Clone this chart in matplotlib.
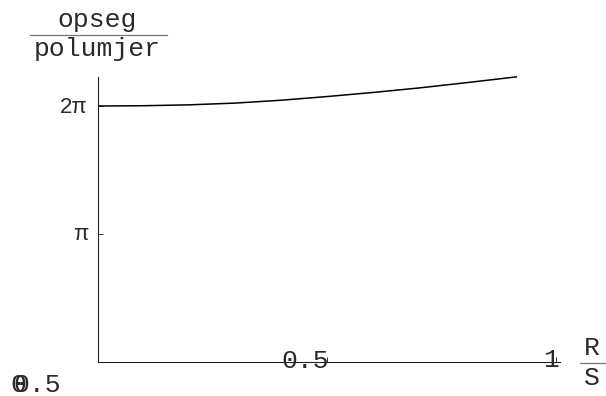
import numpy as np
import matplotlib
matplotlib.use("Agg")
import matplotlib.pyplot as plt

# ---- data ----
ratio_x = [0.0, 0.1, 0.2, 0.3, 0.4, 0.5, 0.6, 0.7, 0.8, 0.915]
ratio_y = [6.283, 6.290, 6.312, 6.355, 6.425, 6.515, 6.615, 6.725, 6.850, 7.000]
x_ticks = [0.5, 1.0]
x_tick_labels = ["0.5", "1"]
y_ticks = [np.pi, 2 * np.pi]
y_tick_labels = ["π", "2π"]
y_title = ("opseg", "polumjer")
x_title = ("R", "S")

W, H = 606, 396
fig = plt.figure(figsize=(W / 100, H / 100), dpi=100)

def fx(px):
    return px / W

def fy(py):
    return 1 - py / H

# axes: x=0 at px 98, x=1 at px 556 ; y=0 at py 362, 2pi at py 106
x0, x1 = 98, 560
y0, y1 = 362, 77
xmax = (x1 - x0) / 458.0
ymax = 2 * np.pi + (106 - y1) * np.pi / 128.0
ax = fig.add_axes([fx(x0), fy(y0), (x1 - x0) / W, (y0 - y1) / H])
ax.set_xlim(0, xmax)
ax.set_ylim(0, ymax)
for s in ["top", "right"]:
    ax.spines[s].set_visible(False)
for s in ["left", "bottom"]:
    ax.spines[s].set_linewidth(0.8)
    ax.spines[s].set_color("#222222")
ax.patch.set_alpha(0)

ax.plot(ratio_x, ratio_y, color="black", lw=1.1, solid_capstyle="butt", clip_on=False)

ax.set_xticks(x_ticks)
ax.set_yticks(y_ticks)
ax.tick_params(direction="in", length=3.5, width=0.7, color="#333333",
               labelbottom=False, labelleft=False)

mono = "Liberation Mono"
fs = 19
tc = "#2a2a2a"

# x tick labels (as placed in the reference)
ax.text(fx(305), fy(368), x_tick_labels[0], transform=fig.transFigure,
        ha="center", va="baseline", fontsize=fs, family=mono, color=tc)
ax.text(fx(551), fy(367), x_tick_labels[1], transform=fig.transFigure,
        ha="center", va="baseline", fontsize=fs, family=mono, color=tc)

# y tick labels
ax.text(fx(88), fy(240), y_tick_labels[0], transform=fig.transFigure,
        ha="right", va="baseline", fontsize=16, family="Liberation Sans", color=tc)
ax.text(fx(88), fy(113), y_tick_labels[1], transform=fig.transFigure,
        ha="right", va="baseline", fontsize=16, family="Liberation Sans", color=tc)

# stray origin labels bottom-left (overlapping, as in the reference)
fig.text(fx(13), fy(392), "0.5", ha="left", va="baseline", fontsize=fs,
         family=mono, color=tc)
fig.text(fx(10), fy(392), "0", ha="left", va="baseline", fontsize=fs,
         family=mono, color=tc)

# y axis title as a fraction
fig.text(fx(97), fy(27), y_title[0], ha="center", va="baseline", fontsize=fs,
         family=mono, color=tc)
fig.text(fx(97), fy(56), y_title[1], ha="center", va="baseline", fontsize=fs,
         family=mono, color=tc)
fig.add_artist(plt.Line2D([fx(30), fx(167)], [fy(35), fy(35)],
                          transform=fig.transFigure, color="#777777", lw=0.9))

# x axis title as a fraction
fig.text(fx(592), fy(355), x_title[0], ha="center", va="baseline", fontsize=fs,
         family=mono, color=tc)
fig.text(fx(592), fy(385), x_title[1], ha="center", va="baseline", fontsize=fs,
         family=mono, color=tc)
fig.add_artist(plt.Line2D([fx(580), fx(605)], [fy(363), fy(363)],
                          transform=fig.transFigure, color="#777777", lw=0.9))

fig.savefig("out.png", dpi=100)
